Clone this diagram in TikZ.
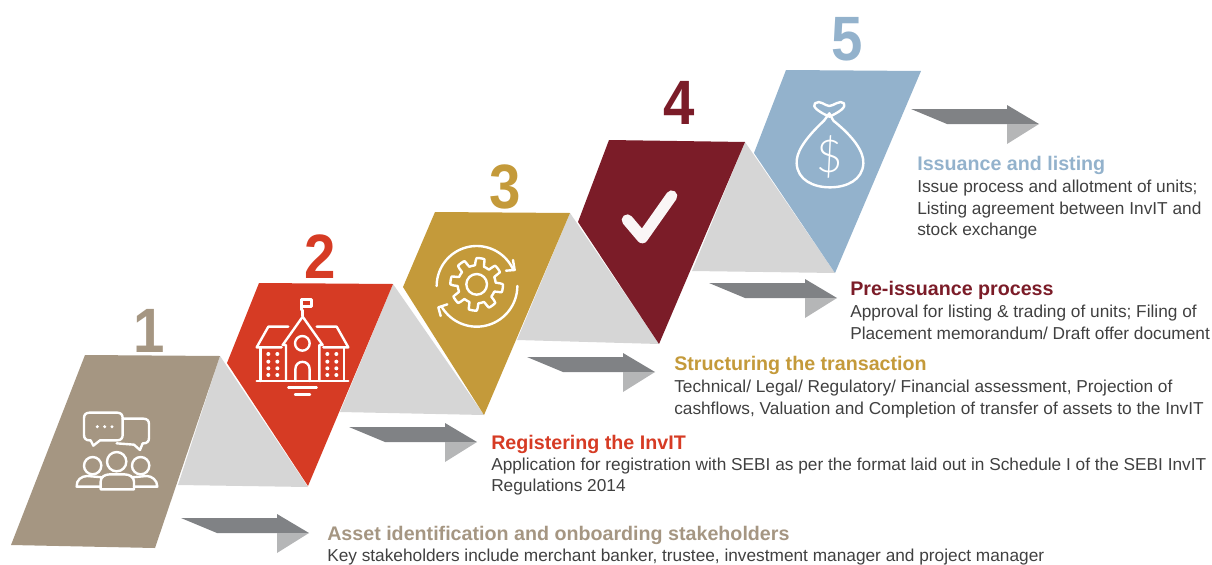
\documentclass[tikz,border=0pt]{standalone}
\usepackage{fontspec}
\setmainfont{Liberation Sans}
\newfontfamily\lightf[UprightFont={* Light}]{Lato}
\definecolor{cA}{HTML}{A59682}
\definecolor{cB}{HTML}{D63B24}
\definecolor{cC}{HTML}{C49A3A}
\definecolor{cD}{HTML}{7B1C28}
\definecolor{cE}{HTML}{93B2CC}
\definecolor{cG}{HTML}{D6D6D6}
\definecolor{cAd}{HTML}{808285}
\definecolor{cAl}{HTML}{B5B6B7}
\definecolor{cT}{HTML}{404040}
\tikzset{
 numlab/.style={font=\fontsize{47}{47}\selectfont\bfseries,anchor=base,inner sep=0pt,xscale=.9},
 headlab/.style={font=\fontsize{14.75}{16}\selectfont\bfseries,anchor=base west,inner sep=0pt},
 bodylab/.style={font=\fontsize{12.95}{15}\selectfont,text=cT,anchor=base west,inner sep=0pt},
 icon/.style={draw=white,line width=1.8pt,line join=round,line cap=round},
 pxgrid/.style={x=.25pt,y=-.25pt}
}
\newcommand{\arrowshape}[2]{%
 \begin{scope}[shift={(#1,#2)}]
  \fill[cAd] (0,0)--(96,0)--(96,-4)--(128,15)--(36,15)--cycle;
  \fill[cAl] (96,15)--(128,15)--(96,35)--cycle;
 \end{scope}}
\begin{document}
\begin{tikzpicture}[x=.75pt,y=-.75pt]
\useasboundingbox (0,0) rectangle (1212,564);
% grey triangles
\fill[cG] (220,356)--(308,487)--(178,485)--cycle;
\fill[cG] (393,284)--(484,415)--(340,412)--cycle;
\fill[cG] (570,213)--(659,344)--(517,340)--cycle;
\fill[cG] (745,142)--(835,273)--(692,271)--cycle;
% colour panels
\fill[cA] (85,355)--(220,356)--(155,548)--(11,545)--cycle;
\fill[cB] (259,283)--(393,284)--(308,486)--(227,363)--cycle;
\fill[cC] (435,212)--(570,213)--(484,415)--(403,287)--cycle;
\fill[cD] (609,140)--(745,142)--(659,344)--(578,222)--cycle;
\fill[cE] (786,70)--(921,71)--(835,273)--(754,153)--cycle;
% arrows
\arrowshape{181}{518}
\arrowshape{349}{427}
\arrowshape{527}{357}
\arrowshape{709}{283}
\arrowshape{911}{109}
% numbers
\node[numlab,text=cA] (n1) at (149,352) {1};
\node[numlab,text=cB] (n2) at (320,278) {2};
\node[numlab,text=cC] (n3) at (505,208) {3};
\node[numlab,text=cD] (n4) at (679,124) {4};
\node[numlab,text=cE] (n5) at (847,60) {5};
% people icon
\begin{scope}[pxgrid,shift={(0,840)}]
 \draw[icon] (268,398)--(352,398)..controls (362,398) and (368,404) .. (368,414)--(368,465)..controls (368,475) and (362,481) .. (352,481)--(300,481)--(280,497)--(272,481)--(268,481)..controls (258,481) and (252,475) .. (252,465)--(252,414)..controls (252,404) and (258,398) .. (268,398)--cycle;
 \draw[icon] (368,416)--(430,416)..controls (441,416) and (447,422) .. (447,432)--(447,474)..controls (447,484) and (441,490) .. (431,490)--(428,490)--(420,510)--(402,494)--(350,490);
 \fill[white] (292,440) circle (5) (314,440) circle (5) (336,440) circle (5);
 \draw[icon] (350,545) circle (29) (278,557) circle (26) (422,557) circle (26);
 \draw[icon] (302,628)--(302,605)..controls (302,590) and (315,583) .. (330,583)--(372,583)..controls (388,583) and (402,590) .. (402,605)--(402,628)--cycle;
 \draw[icon] (302,620)--(230,620)..controls (228,600) and (245,588) .. (262,588)--(308,592);
 \draw[icon] (402,620)--(472,620)..controls (472,600) and (455,588) .. (440,588)--(395,592);
\end{scope}
% school icon
\begin{scope}[pxgrid,shift={(0,840)}]
 \draw[icon] (770,303)--(1045,303) (865,322)--(950,322) (885,343)--(930,343);
 \draw[icon] (908,108)--(908,90) (904,90)--(904,58)--(935,58)--(935,80)--(904,80);
 \draw[icon] (848,195)--(908,110)--(968,195) (848,195)--(858,195)--(858,303) (968,195)--(958,195)--(958,303);
 \draw[icon] (865,140)--(805,140)--(770,202)--(845,202) (950,140)--(1010,140)--(1045,202)--(970,202);
 \draw[icon] (782,202)--(782,303) (1032,202)--(1032,303);
 \draw[icon] (907,190) circle (22);
 \draw[icon] (886,303)--(886,268)..controls (886,238) and (929,238) .. (929,268)--(929,303);
 \foreach \dx in {805,832,982,1009} \foreach \dy in {222,245,265,285}
  \fill[white] (\dx,\dy) circle (6);
\end{scope}
% gear icon
\begin{scope}[pxgrid,shift={(660,600)}]
 \draw[icon] (770,253) circle (31);
 \draw[icon] plot[domain=0:360,samples=145,smooth] ({770+(68+11*tanh(6*sin(8*\x+22)))*cos(\x)},{253+(68+11*tanh(6*sin(8*\x+22)))*sin(\x)});
 \draw[icon] plot[domain=180:336,samples=50] ({770+120*cos(\x)},{258+120*sin(\x)});
 \draw[icon] plot[domain=0:150,samples=50] ({770+122*cos(\x)},{258+122*sin(\x)});
 \draw[icon] (858,212)--(884,210)--(879,180);
 \draw[icon] (682,313)--(655,322)--(662,348);
\end{scope}
% check icon
\begin{scope}[pxgrid,shift={(1710,0)}]
 \draw[draw=white!96!cD,line width=8.5pt,line join=round,line cap=round] (172,660)--(217,713)--(305,588);
\end{scope}
% money bag icon
\begin{scope}[pxgrid,shift={(1710,0)}]
 \draw[icon] (762,362)..controls (700,420) and (678,460) .. (680,490)..controls (682,540) and (730,562) .. (780,562)..controls (830,562) and (878,540) .. (880,490)..controls (882,455) and (850,410) .. (790,362);
 \draw[icon] (778,350)..controls (745,335) and (725,320) .. (735,310)..controls (750,298) and (765,318) .. (778,318)..controls (790,318) and (810,298) .. (822,310)..controls (830,322) and (805,338) .. (778,350)--cycle;
 \draw[icon] (762,362)--(778,340)--(790,362);
 \node[inner sep=0pt,text=white,font=\lightf\fontsize{34}{34}\selectfont] (dollar) at (778,470) {\$};
\end{scope}
% texts
\node[headlab,text=cA] (h1) at (327,540) {Asset identification and onboarding stakeholders};
\node[bodylab] (b1) at (327,561) {Key stakeholders include merchant banker, trustee, investment manager and project manager};
\node[headlab,text=cB] (h2) at (491,449) {Registering the InvIT};
\node[bodylab] (b2a) at (491,470) {Application for registration with SEBI as per the format laid out in Schedule I of the SEBI InvIT};
\node[bodylab] (b2b) at (491,491) {Regulations 2014};
\node[headlab,text=cC] (h3) at (674,370) {Structuring the transaction};
\node[bodylab] (b3a) at (674,392) {Technical/ Legal/ Regulatory/ Financial assessment, Projection of};
\node[bodylab] (b3b) at (674,414) {cashflows, Valuation and Completion of transfer of assets to the InvIT};
\node[headlab,text=cD] (h4) at (850,295) {Pre-issuance process};
\node[bodylab] (b4a) at (850,317) {Approval for listing \& trading of units; Filing of};
\node[bodylab] (b4b) at (850,339) {Placement memorandum/ Draft offer document};
\node[headlab,text=cE] (h5) at (917,170) {Issuance and listing};
\node[bodylab] (b5a) at (917,192) {Issue process and allotment of units;};
\node[bodylab] (b5b) at (917,214) {Listing agreement between InvIT and};
\node[bodylab] (b5c) at (917,235) {stock exchange};
\end{tikzpicture}
\end{document}
